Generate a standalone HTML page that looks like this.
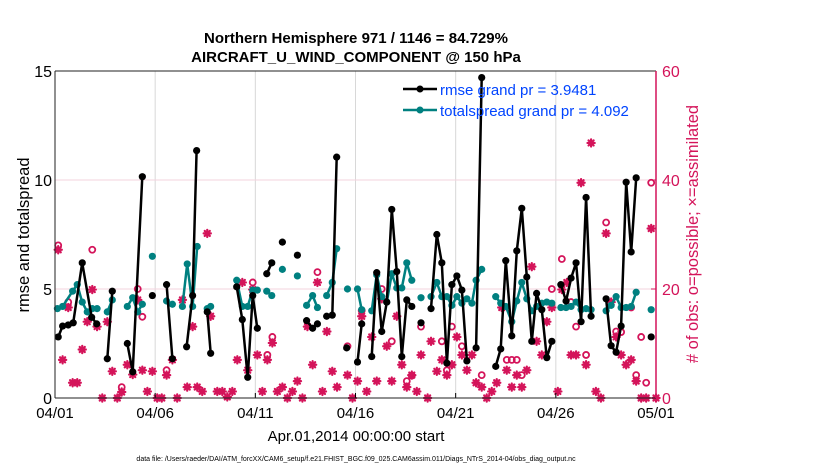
<!DOCTYPE html>
<html><head><meta charset="utf-8"><style>
body{margin:0;background:#fff;}
svg{display:block;font-family:"Liberation Sans",sans-serif;}
</style></head><body>
<svg id="chart" width="830" height="470" xmlns="http://www.w3.org/2000/svg">
<rect width="830" height="470" fill="#fff"/>
<text x="356" y="43" text-anchor="middle" font-size="15" font-weight="bold">Northern Hemisphere 971 / 1146 = 84.729%</text>
<text x="356" y="62" text-anchor="middle" font-size="15" font-weight="bold">AIRCRAFT_U_WIND_COMPONENT @ 150 hPa</text>
<g id="grid"></g>
<g id="obs"></g>
<g id="series"></g>
<g id="axes"></g>
<text transform="translate(29,235) rotate(-90)" text-anchor="middle" font-size="16.5">rmse and totalspread</text>
<text transform="translate(698,234) rotate(-90)" text-anchor="middle" font-size="16.5" fill="#d4145a"># of obs: o=possible; ×=assimilated</text>
<text x="356" y="441" text-anchor="middle" font-size="15">Apr.01,2014 00:00:00 start</text>
<text x="356" y="461" text-anchor="middle" font-size="7">data file: /Users/raeder/DAI/ATM_forcXX/CAM6_setup/f.e21.FHIST_BGC.f09_025.CAM6assim.011/Diags_NTrS_2014-04/obs_diag_output.nc</text>
<g>
<line x1="403" y1="89" x2="437" y2="89" stroke="#000" stroke-width="2.5"/>
<circle cx="420" cy="89" r="3.5" fill="#000"/>
<text x="440" y="95" font-size="15" fill="#0044ff">rmse grand pr = 3.9481</text>
<line x1="403" y1="110" x2="437" y2="110" stroke="#008080" stroke-width="2.5"/>
<circle cx="420" cy="110" r="3.5" fill="#008080"/>
<text x="440" y="116" font-size="15" fill="#0044ff">totalspread grand pr = 4.092</text>
</g>
</svg>
<script>
const rmseDays=[0.16,0.38,0.66,0.91,1.36,1.83,2.08,null,2.61,2.86,null,3.61,3.88,4.36,null,4.86,null,5.57,5.86,null,6.57,6.87,7.07,null,7.6,7.77,null,9.07,9.35,9.62,9.87,10.1,null,10.57,10.82,null,11.35,null,12.1,null,12.56,12.86,13.1,null,13.56,13.84,14.06,null,14.56,null,15.1,15.31,null,15.81,16.06,16.31,16.56,16.81,17.06,17.31,17.56,17.81,null,18.27,null,18.77,19.06,19.31,19.56,19.81,20.06,20.31,20.56,null,21.02,21.3,null,22.0,22.25,22.5,22.8,23.05,23.3,23.55,23.8,24.04,24.3,24.55,24.8,null,25.25,25.51,25.76,26.01,26.26,26.51,26.76,null,27.51,27.76,28.01,28.26,28.51,28.76,29.01,null,29.76];
const rmseVals=[2.8,3.3,3.35,3.45,6.2,3.7,3.4,null,1.8,4.9,null,2.5,1.2,10.15,null,4.7,null,5.2,1.8,null,2.35,4.7,11.35,null,3.95,2.05,null,5.1,3.6,0.95,4.7,3.2,null,5.7,6.2,null,7.15,null,6.55,null,3.55,3.2,3.4,null,3.75,3.8,11.05,null,2.3,null,1.65,3.4,null,1.9,5.75,3.05,4.4,8.65,5.8,1.9,4.5,4.2,null,3.45,null,4.1,7.5,6.2,1.6,5.2,5.6,4.95,1.7,null,2.3,14.7,null,1.45,2.25,6.3,2.85,6.75,8.7,5.55,2.6,4.8,4.05,1.85,2.6,null,5.2,4.45,5.5,6.2,3.5,9.2,3.75,null,4.55,2.4,2.1,3.3,9.9,6.7,10.1,null,2.8];
const spreadDays=[0.12,0.38,0.88,1.11,1.36,1.61,1.86,2.1,null,2.61,2.86,null,3.61,3.88,4.13,4.36,null,4.86,null,5.57,5.86,null,6.36,6.6,6.87,7.1,null,7.6,7.77,null,9.07,9.35,9.62,9.87,10.1,null,10.57,10.82,null,11.35,null,12.1,null,12.56,12.86,13.1,null,13.56,13.84,14.06,null,14.6,null,15.1,15.31,null,15.81,16.06,16.31,16.56,16.81,17.06,17.31,17.56,17.81,null,18.27,null,18.77,19.06,19.31,19.56,19.81,20.06,20.31,20.56,20.81,21.02,21.3,null,22.0,22.25,22.5,22.8,23.05,23.3,23.55,23.8,24.04,24.3,24.55,24.8,null,25.25,25.51,25.76,26.01,26.26,26.51,26.76,null,27.51,27.76,28.01,28.26,28.51,28.76,29.01,null,29.76];
const spreadVals=[4.1,4.2,4.9,5.2,4.4,3.95,4.1,4.1,null,3.95,4.5,null,4.2,4.6,3.95,4.3,null,6.5,null,4.45,4.3,null,4.2,6.15,4.2,6.95,null,4.1,4.2,null,5.4,4.2,4.2,4.95,4.95,null,4.9,4.7,null,5.9,null,5.6,null,4.25,4.7,4.15,null,4.7,5.3,6.85,null,5.0,null,5.0,4.05,null,4.0,5.65,4.65,4.4,5.7,5.05,5.05,6.2,5.4,null,4.6,null,4.65,5.3,4.65,4.65,4.25,4.65,4.35,4.55,4.35,5.4,5.9,null,4.65,4.35,4.2,3.5,4.45,5.3,4.55,4.0,4.2,4.35,4.4,4.35,null,4.15,4.15,4.2,4.4,4.05,4.1,4.05,null,4.0,4.25,4.65,4.15,4.15,4.2,4.85,null,4.05];
const assimDays=[0.16,0.38,0.66,0.88,1.11,1.36,1.61,1.86,2.1,2.36,2.61,2.86,3.11,3.33,3.61,3.88,4.13,4.36,4.61,4.86,5.1,5.33,5.57,5.86,6.1,6.36,6.6,6.87,7.1,7.35,7.6,7.77,8.1,8.35,8.6,8.85,9.1,9.35,9.62,9.87,10.1,10.35,10.6,10.85,11.1,11.35,11.6,11.85,12.1,12.35,12.6,12.86,13.1,13.35,13.57,13.84,14.08,14.6,14.85,15.1,15.31,15.56,15.81,16.06,16.31,16.56,16.81,17.06,17.31,17.56,17.81,18.06,18.27,18.6,18.77,19.06,19.31,19.56,19.81,20.06,20.31,20.56,20.81,21.02,21.3,21.55,21.8,22.05,22.3,22.55,22.8,23.05,23.3,23.55,23.8,24.04,24.3,24.55,24.8,25.1,25.3,25.55,25.76,26.01,26.26,26.51,26.76,27.0,27.25,27.51,27.76,28.01,28.26,28.51,28.76,29.01,29.26,29.51,29.76,30.0];
const assimVals=[27.2,7.0,16.6,2.8,2.8,8.9,14.0,19.9,13.1,0,14.0,4.9,0,1.1,6.1,4.3,18.0,5.1,1.2,4.9,0,0,4.2,7.0,0,18.0,2.0,13.1,2.0,1.2,30.2,15.0,1.2,1.2,0.2,1.2,7.0,21.2,5.1,19.9,7.9,1.2,7.0,10.1,1.2,2.0,0,1.2,3.1,0,13.1,6.1,21.2,1.2,12.2,4.9,2.0,4.2,0,3.1,15.0,1.2,11.2,3.1,18.2,9.5,3.1,15.0,6.1,2.0,4.2,1.2,7.9,0,10.4,4.9,7.0,4.2,6.1,11.2,7.9,5.1,7.9,2.8,2.0,0,1.2,2.8,16.6,5.1,2.0,4.2,2.0,5.1,24.1,10.4,7.9,14.0,16.6,1.2,19.9,21.2,7.9,7.9,39.5,6.1,46.8,1.2,0,30.2,17.6,11.2,7.9,6.1,7.0,3.1,0,0,31.1,0];
const possDays=[0.16,0.66,1.86,3.33,4.13,4.36,5.57,9.87,10.6,10.85,13.1,14.6,15.31,16.31,16.81,17.56,17.81,18.27,19.31,19.56,19.81,20.31,21.3,22.55,22.8,23.05,23.3,24.8,25.3,25.76,26.01,26.51,27.51,28.01,28.26,28.76,29.01,29.26,29.51,29.76];
const possVals=[28.0,17.6,27.2,2.0,20.0,14.9,5.1,21.2,7.9,11.2,23.1,9.5,16.0,20.0,10.4,3.1,4.1,13.1,10.4,5.1,13.1,9.5,4.2,7.0,7.0,7.0,4.2,20.0,25.5,17.6,13.1,7.9,32.2,12.2,12.1,16.6,4.2,11.2,2.8,39.5];
const xTickDays=[0,5,10,15,20,25,30];
const xTickLabels=["04/01","04/06","04/11","04/16","04/21","04/26","05/01"];
const yTicks=[0,5,10,15];
const y2Ticks=[0,20,40,60];

const X0=55,X1=656,Y0=398,Y1=71;
const xs=d=>X0+(X1-X0)*d/30;
const ys=v=>Y0-(Y0-Y1)*v/15;
const y2s=v=>Y0-(Y0-Y1)*v/60;
const NS="http://www.w3.org/2000/svg";
function mk(tag,parent,attrs){const e=document.createElementNS(NS,tag);for(const k in attrs)e.setAttribute(k,attrs[k]);parent.appendChild(e);return e;}
const PINK="#d4145a";
const grid=document.getElementById('grid'),axes=document.getElementById('axes'),obs=document.getElementById('obs'),series=document.getElementById('series');

xTickDays.forEach((d,i)=>{
  if(i>0&&i<xTickDays.length-1){const g=mk('line',grid,{x1:xs(d),x2:xs(d),y1:Y1,y2:Y0,stroke:'#d8d8d8','stroke-width':1});
  
  }
  const t=mk('text',axes,{x:xs(d),y:Y0+20,'text-anchor':'middle','font-size':15});t.textContent=xTickLabels[i];
  
  
  mk('line',axes,{x1:xs(d),x2:xs(d),y1:Y0,y2:Y0-5,stroke:'#000'});
});
yTicks.forEach(v=>{
  if(v>0&&v<15){const g=mk('line',grid,{x1:X0,x2:X1,y1:ys(v),y2:ys(v),stroke:'#f3d3de','stroke-width':1});
  
  }
  const t=mk('text',axes,{x:X0-3,y:ys(v)+6,'text-anchor':'end','font-size':16});t.textContent=v;
  
  
});
y2Ticks.forEach(v=>{
  const t=mk('text',axes,{x:X1+6,y:y2s(v)+6,'font-size':16,fill:PINK});t.textContent=v;
  
  
  mk('line',axes,{x1:X1,x2:X1-5,y1:y2s(v),y2:y2s(v),stroke:PINK});
});
mk('line',axes,{x1:X0,x2:X1,y1:Y1,y2:Y1,stroke:'#222'});
mk('line',axes,{x1:X0,x2:X1,y1:Y0,y2:Y0,stroke:'#222'});
mk('line',axes,{x1:X0,x2:X0,y1:Y1,y2:Y0,stroke:'#222'});
mk('line',axes,{x1:X1,x2:X1,y1:Y1,y2:Y0,stroke:PINK,'stroke-width':1.5});

assimDays.forEach((d,i)=>{
  const cx=xs(d),cy=y2s(assimVals[i]),r=3.6;
  const g=mk('g',obs,{stroke:PINK,'stroke-width':2.2,'stroke-linecap':'round'});
  
  
  for(let a=0;a<4;a++){const th=a*Math.PI/4;mk('line',g,{x1:cx-r*Math.cos(th),y1:cy-r*Math.sin(th),x2:cx+r*Math.cos(th),y2:cy+r*Math.sin(th)});}
});
possDays.forEach((d,i)=>{
  const c=mk('circle',obs,{cx:xs(d),cy:y2s(possVals[i]),r:3,fill:'none',stroke:PINK,'stroke-width':1.8});
  
  
});

function drawSeries(days,vals,color,name){
  let d='',pen=false;
  days.forEach((x,i)=>{
    if(x===null||vals[i]===null){pen=false;return;}
    d+=(pen?'L':'M')+xs(x).toFixed(1)+' '+ys(vals[i]).toFixed(1)+' ';pen=true;
  });
  const p=mk('path',series,{d:d,fill:'none',stroke:color,'stroke-width':2.5,'stroke-linejoin':'round'});
  
  
  days.forEach((x,i)=>{
    if(x===null||vals[i]===null)return;
    const c=mk('circle',series,{cx:xs(x),cy:ys(vals[i]),r:3.6,fill:color});
    
    
  });
}
drawSeries(spreadDays,spreadVals,'#008080','totalspread');
drawSeries(rmseDays,rmseVals,'#000','rmse');
</script>
</body></html>
